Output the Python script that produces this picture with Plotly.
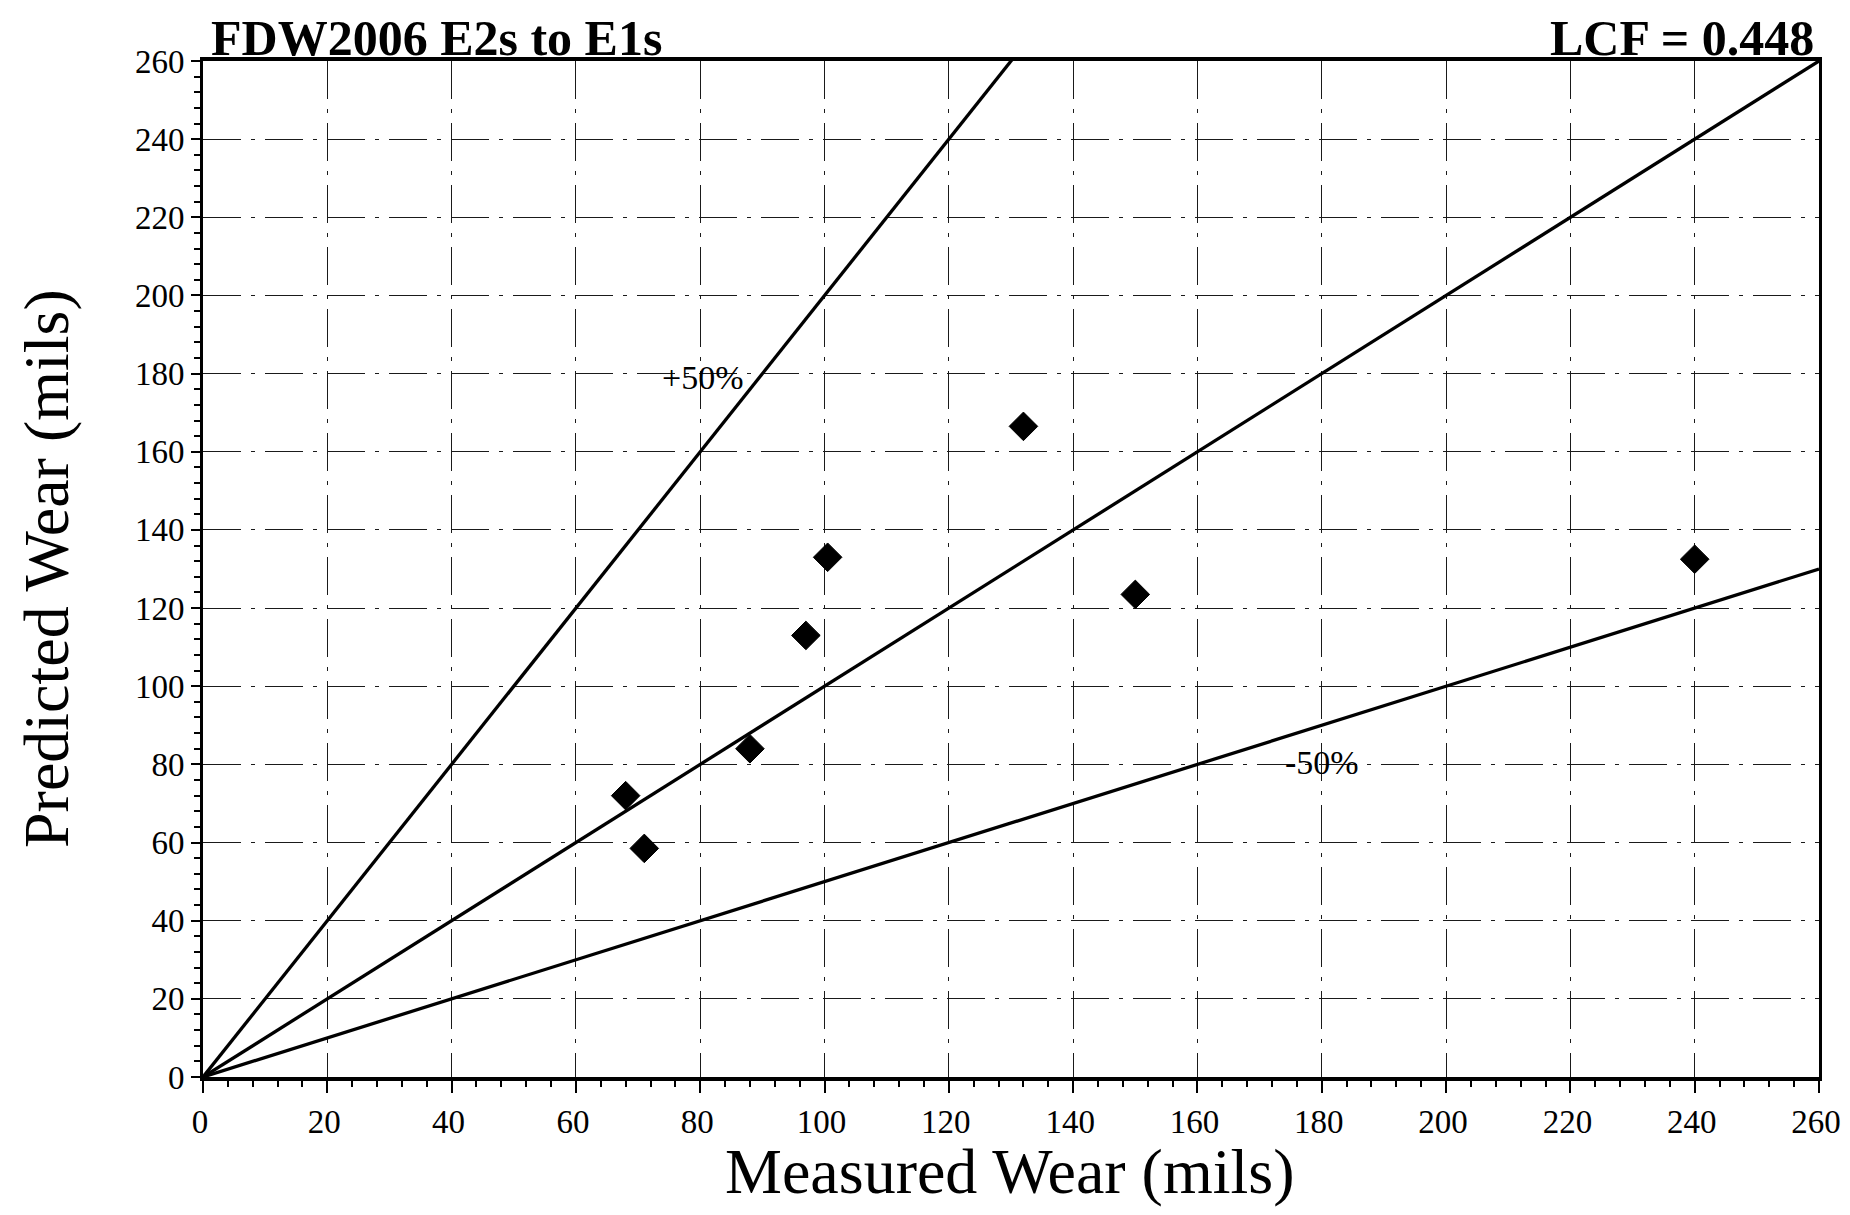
import plotly.graph_objects as go

# Data
measured = [68, 71, 88, 97, 100.5, 132, 150, 240]
predicted = [72, 58.5, 84, 113, 133, 166.5, 123.5, 132.5]

ref_x = [0, 260]
ref_slopes = [2.0, 1.0, 0.5]          # +50%, 1:1, -50% lines
ref_labels = ["+50%", "", "-50%"]
label_pos_x = [80.5, None, 180]
label_pos_y = [179, None, 80.5]

tick_vals = list(range(0, 261, 20))
tick_text = [str(v) for v in tick_vals]

title_left = "FDW2006 E2s to E1s"
title_right = "LCF = 0.448"
x_title = "Measured Wear (mils)"
y_title = "Predicted Wear (mils)"

FONT = "Liberation Serif, Times New Roman, serif"

fig = go.Figure()
for s in ref_slopes:
    fig.add_trace(go.Scatter(
        x=ref_x, y=[s * v for v in ref_x], mode="lines",
        line=dict(color="black", width=3.3), hoverinfo="skip", showlegend=False))

fig.add_trace(go.Scatter(
    x=measured, y=predicted, mode="markers",
    marker=dict(symbol="diamond", size=22, color="black",
                line=dict(color="black", width=1)),
    showlegend=False))

# page has an 8px body margin; keep the figure inside the viewport (no scrollbars)
OFF = 8
W, H = 1850 - 2 * OFF, 1215 - 2 * OFF
PL, PR, PT, PB = 203, 1819, 61, 1077      # plot area in page pixels
L = PL - OFF
R = W - (PR - OFF)
T = PT - OFF
B = H - (PB - OFF)
pw, ph = PR - PL, PB - PT

def px_to_paper_x(px):
    return (px - PL) / pw

def px_to_paper_y(py):
    return (PB - py) / ph

annotations = []
for lab, lx, ly in zip(ref_labels, label_pos_x, label_pos_y):
    if lab:
        annotations.append(dict(x=lx, y=ly, xref="x", yref="y", text=lab,
                                showarrow=False, font=dict(family=FONT, size=34, color="black"),
                                xanchor="center", yanchor="middle"))

annotations += [
    dict(x=px_to_paper_x(209), y=px_to_paper_y(8), xref="paper", yref="paper",
         text="<b>" + title_left + "</b>", showarrow=False, xanchor="left", yanchor="top",
         font=dict(family=FONT, size=50, color="black")),
    dict(x=px_to_paper_x(1816), y=px_to_paper_y(8), xref="paper", yref="paper",
         text="<b>" + title_right + "</b>", showarrow=False, xanchor="right", yanchor="top",
         font=dict(family=FONT, size=50, color="black")),
    dict(x=px_to_paper_x(1009), y=px_to_paper_y(1209), xref="paper", yref="paper",
         text=x_title, showarrow=False, xanchor="center", yanchor="bottom",
         font=dict(family=FONT, size=64, color="black")),
    dict(x=px_to_paper_x(46), y=px_to_paper_y(569), xref="paper", yref="paper",
         text=y_title, showarrow=False, xanchor="center", yanchor="middle", textangle=-90,
         font=dict(family=FONT, size=64, color="black")),
]

grid_dash = "38px,10px,4px,10px"

axis_common = dict(
    range=[0, 260], tickmode="array", tickvals=tick_vals, ticktext=tick_text,
    ticks="outside", tickcolor="black", tickwidth=2,
    tickfont=dict(family=FONT, size=33, color="black"),
    ticklabeloverflow="allow", automargin=False,
    showgrid=True, gridcolor="#1a1a1a", gridwidth=1.3, griddash=grid_dash,
    zeroline=False, showline=True, linecolor="black", mirror=True,
    minor=dict(dtick=4, tick0=0, ticks="outside", ticklen=6, tickwidth=2,
               tickcolor="black", showgrid=False),
    fixedrange=True,
)

fig.update_xaxes(**axis_common, ticklen=12, linewidth=4, ticklabelshift=-3)
fig.update_yaxes(**axis_common, ticklen=9, linewidth=3)

fig.update_layout(
    width=W, height=H,
    margin=dict(l=L, r=R, t=T, b=B, autoexpand=False),
    plot_bgcolor="white", paper_bgcolor="white",
    annotations=annotations,
    showlegend=False,
)

fig.write_html("out.html")
